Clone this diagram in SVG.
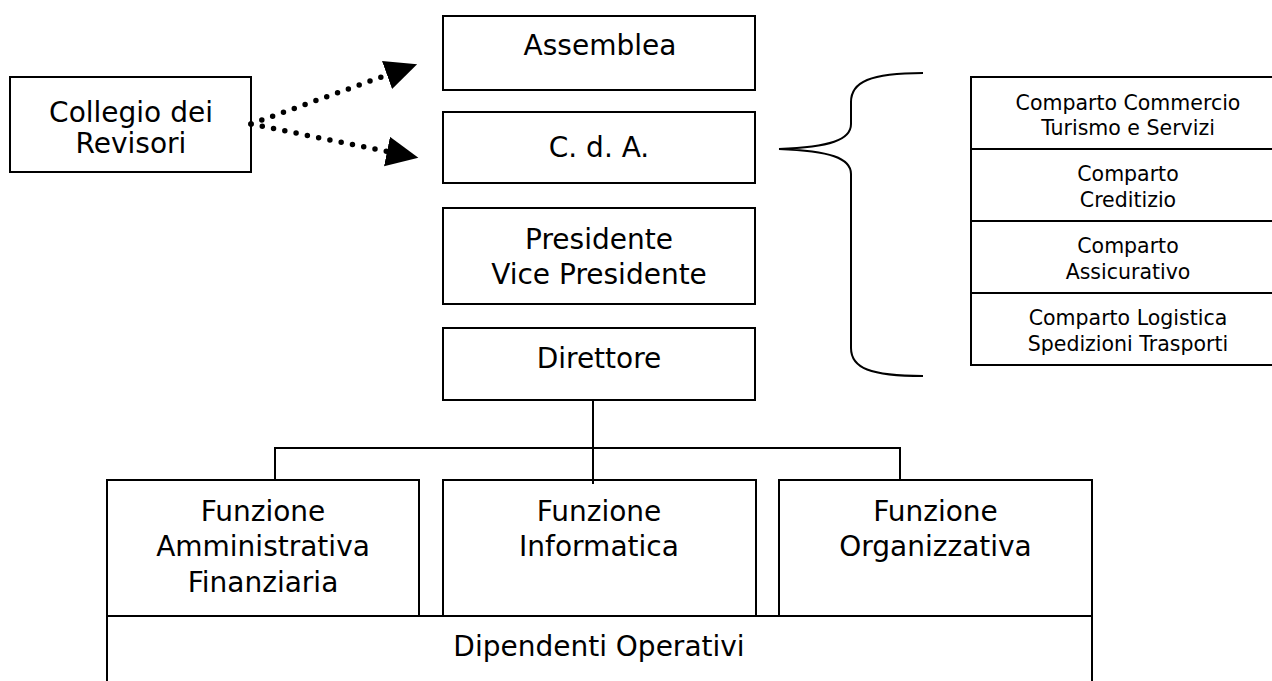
<svg xmlns="http://www.w3.org/2000/svg" width="1272" height="681" viewBox="0 0 1272 681">
<style>
.box{fill:#fff;stroke:#000;stroke-width:2}
.t{font-family:"DejaVu Sans",Verdana,sans-serif;font-size:28px;fill:#000;text-anchor:middle}
.s{font-family:"DejaVu Sans",Verdana,sans-serif;font-size:20.5px;fill:#000;text-anchor:middle}
.ln{fill:none;stroke:#000;stroke-width:2}
.dot{fill:none;stroke:#000;stroke-width:5.5;stroke-linecap:round;stroke-dasharray:0 11.5}
</style>
<defs>
<marker id="ah" markerUnits="userSpaceOnUse" markerWidth="34" markerHeight="32" refX="0" refY="15" orient="auto">
<path d="M0,0 L32,15 L0,30 z" fill="#000"/>
</marker>
</defs>
<rect width="1272" height="681" fill="#fff"/>
<g id="collegio"><rect class="box" x="10" y="77" width="241" height="95"/><text class="t" x="131" y="122">Collegio dei</text><text class="t" x="131" y="153">Revisori</text></g>
<g id="assemblea"><rect class="box" x="443" y="16" width="312" height="74"/><text class="t" x="600" y="55">Assemblea</text></g>
<g id="cda"><rect class="box" x="443" y="112" width="312" height="71"/><text class="t" x="599" y="157">C. d. A.</text></g>
<g id="presidente"><rect class="box" x="443" y="208" width="312" height="96"/><text class="t" x="599" y="249">Presidente</text><text class="t" x="599" y="284">Vice Presidente</text></g>
<g id="direttore"><rect class="box" x="443" y="328" width="312" height="72"/><text class="t" x="599" y="368">Direttore</text></g>
<g id="comparti">
<rect class="box" x="971" y="77" width="315" height="72"/><text class="s" x="1128" y="109.5">Comparto Commercio</text><text class="s" x="1128" y="135">Turismo e Servizi</text>
<rect class="box" x="971" y="149" width="315" height="72"/><text class="s" x="1128" y="181">Comparto</text><text class="s" x="1128" y="206.5">Creditizio</text>
<rect class="box" x="971" y="221" width="315" height="72"/><text class="s" x="1128" y="253">Comparto</text><text class="s" x="1128" y="278.5">Assicurativo</text>
<rect class="box" x="971" y="293" width="315" height="72"/><text class="s" x="1128" y="325">Comparto Logistica</text><text class="s" x="1128" y="350.5">Spedizioni Trasporti</text>
</g>
<g id="dipendenti"><rect class="box" x="107" y="616" width="985" height="90"/><text class="t" x="599" y="656">Dipendenti Operativi</text></g>
<g id="f-amm"><rect class="box" x="107" y="480" width="312" height="136"/><text class="t" x="263" y="521">Funzione</text><text class="t" x="263" y="556">Amministrativa</text><text class="t" x="263" y="591.5">Finanziaria</text></g>
<g id="f-inf"><rect class="box" x="443" y="480" width="313" height="136"/><text class="t" x="599" y="521">Funzione</text><text class="t" x="599" y="556">Informatica</text></g>
<g id="f-org"><rect class="box" x="779" y="480" width="313" height="136"/><text class="t" x="935.5" y="521">Funzione</text><text class="t" x="935.5" y="556">Organizzativa</text></g>
<g id="connectors">
<path class="dot" d="M251,124 L387,75" marker-end="url(#ah)"/>
<path class="dot" d="M251,124 L387,151.5" marker-end="url(#ah)"/>
<path class="ln" d="M923,73 C870,73 851,82 851,102 L851,124 C851,140 830,147 779,149 C830,151 851,158 851,174 L851,348 C851,368 870,376 923,376"/>
<path class="ln" d="M593,400 L593,484 M275,480 L275,448 L900,448 L900,480"/>
</g>
</svg>
